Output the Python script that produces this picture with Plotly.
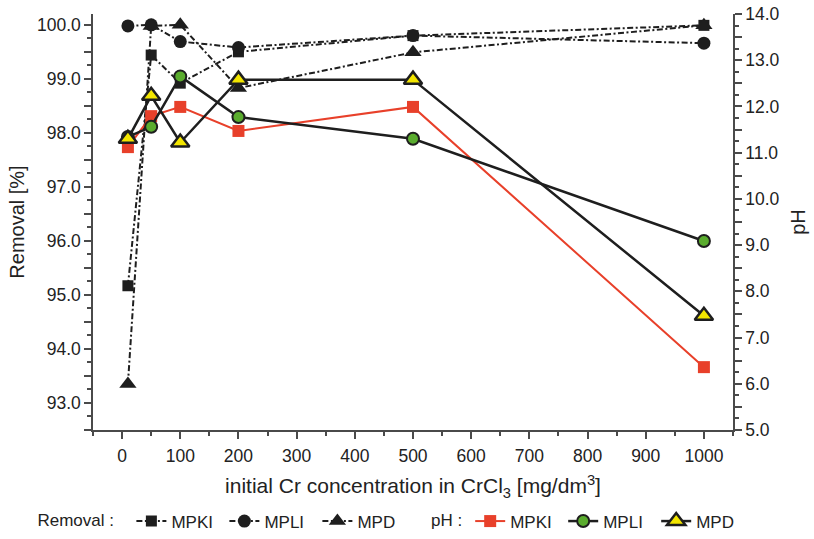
import numpy as np
import plotly.graph_objects as go

# Initial Cr concentration in CrCl3 solution [mg/dm3]
conc = [10, 50, 100, 200, 500, 1000]

# Removal efficiency [%]
removal_mpki = [95.17, 99.44, 98.92, 99.50, 99.80, 99.99]
removal_mpli = [99.98, 100.00, 99.69, 99.58, 99.80, 99.66]
removal_mpd = [93.35, 99.98, 100.00, 98.83, 99.49, 99.99]

# Final pH of the solution
ph_mpki = [11.12, 11.79, 11.99, 11.47, 11.99, 6.36]
ph_mpli = [11.34, 11.56, 12.65, 11.77, 11.30, 9.09]
ph_mpd = [11.30, 12.23, 11.22, 12.58, 12.58, 7.47]

series_names = ["MPKI", "MPLI", "MPD"]

# axis tick values / labels
x_ticks = list(range(0, 1001, 100))
left_major = np.round(np.arange(92.5, 100.01, 0.5), 2)
left_text = [f"{v:.1f}" if abs(v - round(v)) < 1e-9 else "" for v in left_major]
right_major = np.round(np.arange(5.0, 14.01, 0.5), 2)
right_text = [f"{v:.1f}" if abs(v - round(v)) < 1e-9 else "" for v in right_major]

FONT = "Liberation Sans, Arial, sans-serif"
AX = "#4a4a4a"
DARK = "#1e1e1e"
RED = "#e8402a"
GREEN = "#5aac2e"
YELLOW = "#f3e600"
DASH = "6px,2.5px,2px,2.5px"

fig = go.Figure()

removal_sets = [
    (removal_mpki, "square", 11),
    (removal_mpli, "circle", 13),
    (removal_mpd, "triangle-up", 15),
]
for (vals, sym, size), name in zip(removal_sets, series_names):
    fig.add_trace(go.Scatter(
        x=conc, y=vals, name=name, mode="lines+markers",
        line=dict(color=DARK, width=2, dash=DASH),
        marker=dict(symbol=sym, size=size, color=DARK, line=dict(width=0)),
        yaxis="y", legend="legend",
    ))

ph_sets = [
    (ph_mpki, RED, "square", 12, RED, 0),
    (ph_mpli, DARK, "circle", 12, GREEN, 2),
    (ph_mpd, DARK, "triangle-up", 16, YELLOW, 2.5),
]
for (vals, lc, sym, size, fc, lw), name in zip(ph_sets, series_names):
    fig.add_trace(go.Scatter(
        x=conc, y=vals, name=name, mode="lines+markers",
        line=dict(color=lc, width=2.5 if lc == DARK else 2),
        marker=dict(symbol=sym, size=size, color=fc, line=dict(color=DARK, width=lw)),
        yaxis="y2", legend="legend2",
    ))

axis_common = dict(
    showline=True, linecolor=AX, linewidth=1.5, ticks="outside",
    tickcolor=AX, tickwidth=1.5, ticklen=7, showgrid=False, zeroline=False,
    automargin=False,
    tickfont=dict(family=FONT, size=17.5, color="#222"),
)
minor_common = dict(ticks="outside", ticklen=4, tickcolor=AX, tickwidth=1.5)

fig.update_layout(
    width=814, height=539,
    margin=dict(l=93, r=81, t=14, b=109, autoexpand=False),
    paper_bgcolor="white", plot_bgcolor="white",
    font=dict(family=FONT, color="#222"),
    xaxis=dict(
        range=[-50, 1050], tickvals=x_ticks, ticklabelstandoff=2,
        minor=dict(dtick=50, tick0=0, **minor_common),
        title=dict(text="initial Cr concentration in CrCl<sub>3</sub> [mg/dm<sup>3</sup>]",
                   font=dict(family=FONT, size=21, color="#222"), standoff=14),
        **axis_common,
    ),
    yaxis=dict(
        range=[92.5, 100.2], tickmode="array", tickvals=left_major, ticktext=left_text,
        minor=dict(dtick=0.25, tick0=92.5, **minor_common),
        title=dict(text="Removal [%]", font=dict(family=FONT, size=20, color="#222"), standoff=7),
        **axis_common,
    ),
    yaxis2=dict(
        range=[5, 14], overlaying="y", side="right", anchor="x",
        tickmode="array", tickvals=right_major, ticktext=right_text,
        minor=dict(dtick=0.25, tick0=5, **minor_common),
        title=dict(text="pH", font=dict(family=FONT, size=20, color="#222"), standoff=12),
        **axis_common,
    ),
    legend=dict(
        orientation="h", x=-0.09, xanchor="left", y=-0.22, yanchor="middle",
        title=dict(text="Removal :  ", side="left", font=dict(family=FONT, size=17)),
        font=dict(family=FONT, size=17, color="#222"),
        bgcolor="rgba(0,0,0,0)", itemwidth=30, tracegroupgap=0, entrywidth=48,
    ),
    legend2=dict(
        orientation="h", x=0.525, xanchor="left", y=-0.22, yanchor="middle",
        title=dict(text="pH :", side="left", font=dict(family=FONT, size=17)),
        font=dict(family=FONT, size=17, color="#222"),
        bgcolor="rgba(0,0,0,0)", itemwidth=30, tracegroupgap=0, entrywidth=48,
    ),
    showlegend=True,
)

fig.write_html("out.html")
